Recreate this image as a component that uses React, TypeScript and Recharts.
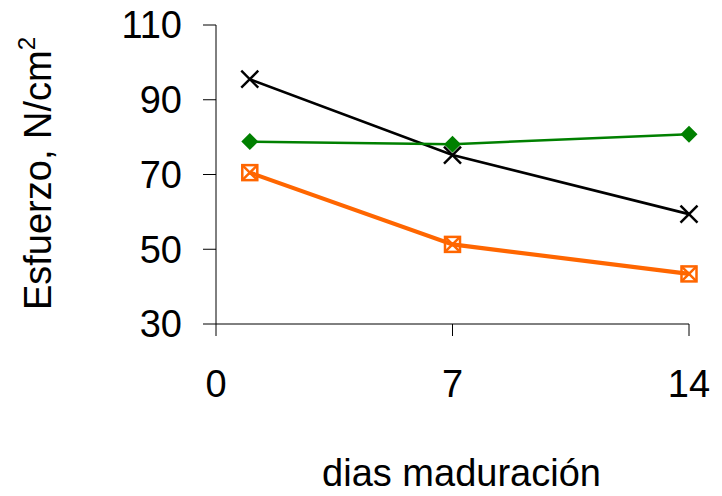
import React from 'react';
import { LineChart, Line, XAxis, YAxis } from 'recharts';

// dias de maduración where each series was measured
const DAYS = [1, 7, 14];
// esfuerzo, N/cm2
const CROSS_SERIES = [95.5, 75.2, 59.4];
const DIAMOND_SERIES = [78.8, 78.1, 80.8];
const SQUARE_SERIES = [70.5, 51.3, 43.4];

const X_TICKS = [0, 7, 14];
const Y_TICKS = [30, 50, 70, 90, 110];

const FONT = '"Liberation Sans", Arial, sans-serif';
const ORANGE = '#FF6600';
const GREEN = '#008000';

const data = DAYS.map((d, i) => ({
  day: d,
  cross: CROSS_SERIES[i],
  diamond: DIAMOND_SERIES[i],
  square: SQUARE_SERIES[i],
}));

const CrossDot = (props: any) => {
  const { cx, cy } = props;
  if (cx == null || cy == null) return null;
  const s = 8.5;
  return (
    <g stroke="#000" strokeWidth={2.4}>
      <line x1={cx - s} y1={cy - s} x2={cx + s} y2={cy + s} />
      <line x1={cx - s} y1={cy + s} x2={cx + s} y2={cy - s} />
    </g>
  );
};

const DiamondDot = (props: any) => {
  const { cx, cy } = props;
  if (cx == null || cy == null) return null;
  const s = 8.5;
  return (
    <polygon
      points={`${cx},${cy - s} ${cx + s},${cy} ${cx},${cy + s} ${cx - s},${cy}`}
      fill={GREEN}
    />
  );
};

const SquareDot = (props: any) => {
  const { cx, cy } = props;
  if (cx == null || cy == null) return null;
  const s = 7.5;
  return (
    <g stroke={ORANGE} strokeWidth={2.5} fill="none">
      <rect x={cx - s} y={cy - s} width={s * 2} height={s * 2} />
      <line x1={cx - s} y1={cy - s} x2={cx + s} y2={cy + s} />
      <line x1={cx - s} y1={cy + s} x2={cx + s} y2={cy - s} />
    </g>
  );
};

const YLabel = (props: any) => {
  const vb = props.viewBox || {};
  const cx = 51;
  const cy = vb.y + vb.height / 2 - 1;
  return (
    <text
      x={cx}
      y={cy}
      transform={`rotate(-90, ${cx}, ${cy})`}
      textAnchor="middle"
      fontFamily={FONT}
      fontSize={38}
      fill="#000"
    >
      Esfuerzo, N/cm
      <tspan fontSize={24} dy={-16}>2</tspan>
    </text>
  );
};

const XLabel = (props: any) => {
  const vb = props.viewBox || {};
  return (
    <text
      x={vb.x + vb.width / 2 + 9}
      y={vb.y + 162}
      textAnchor="middle"
      fontFamily={FONT}
      fontSize={38}
      fill="#000"
    >
      dias maduración
    </text>
  );
};

export default function App() {
  return (
    <div style={{ position: 'absolute', left: 0, top: 0, background: '#fff' }}>
      <LineChart
        width={722}
        height={496}
        data={data}
        margin={{ top: 25, right: 33, left: 0, bottom: 0 }}
      >
        <XAxis
          dataKey="day"
          type="number"
          domain={[0, 14]}
          ticks={X_TICKS}
          height={172}
          tickSize={12}
          tickMargin={34}
          axisLine={{ stroke: '#000' }}
          tickLine={{ stroke: '#000' }}
          tick={{ fill: '#000', fontSize: 38, fontFamily: FONT }}
          label={{ content: XLabel }}
        />
        <YAxis
          type="number"
          domain={[30, 110]}
          ticks={Y_TICKS}
          width={216}
          tickSize={13}
          tickMargin={21}
          axisLine={{ stroke: '#000' }}
          tickLine={{ stroke: '#000' }}
          tick={{ fill: '#000', fontSize: 38, fontFamily: FONT }}
          label={{ content: YLabel }}
        />
        <Line
          dataKey="cross"
          stroke="#000"
          strokeWidth={2.6}
          dot={<CrossDot />}
          isAnimationActive={false}
        />
        <Line
          dataKey="diamond"
          stroke={GREEN}
          strokeWidth={2.5}
          dot={<DiamondDot />}
          isAnimationActive={false}
        />
        <Line
          dataKey="square"
          stroke={ORANGE}
          strokeWidth={4.2}
          dot={<SquareDot />}
          isAnimationActive={false}
        />
      </LineChart>
    </div>
  );
}
